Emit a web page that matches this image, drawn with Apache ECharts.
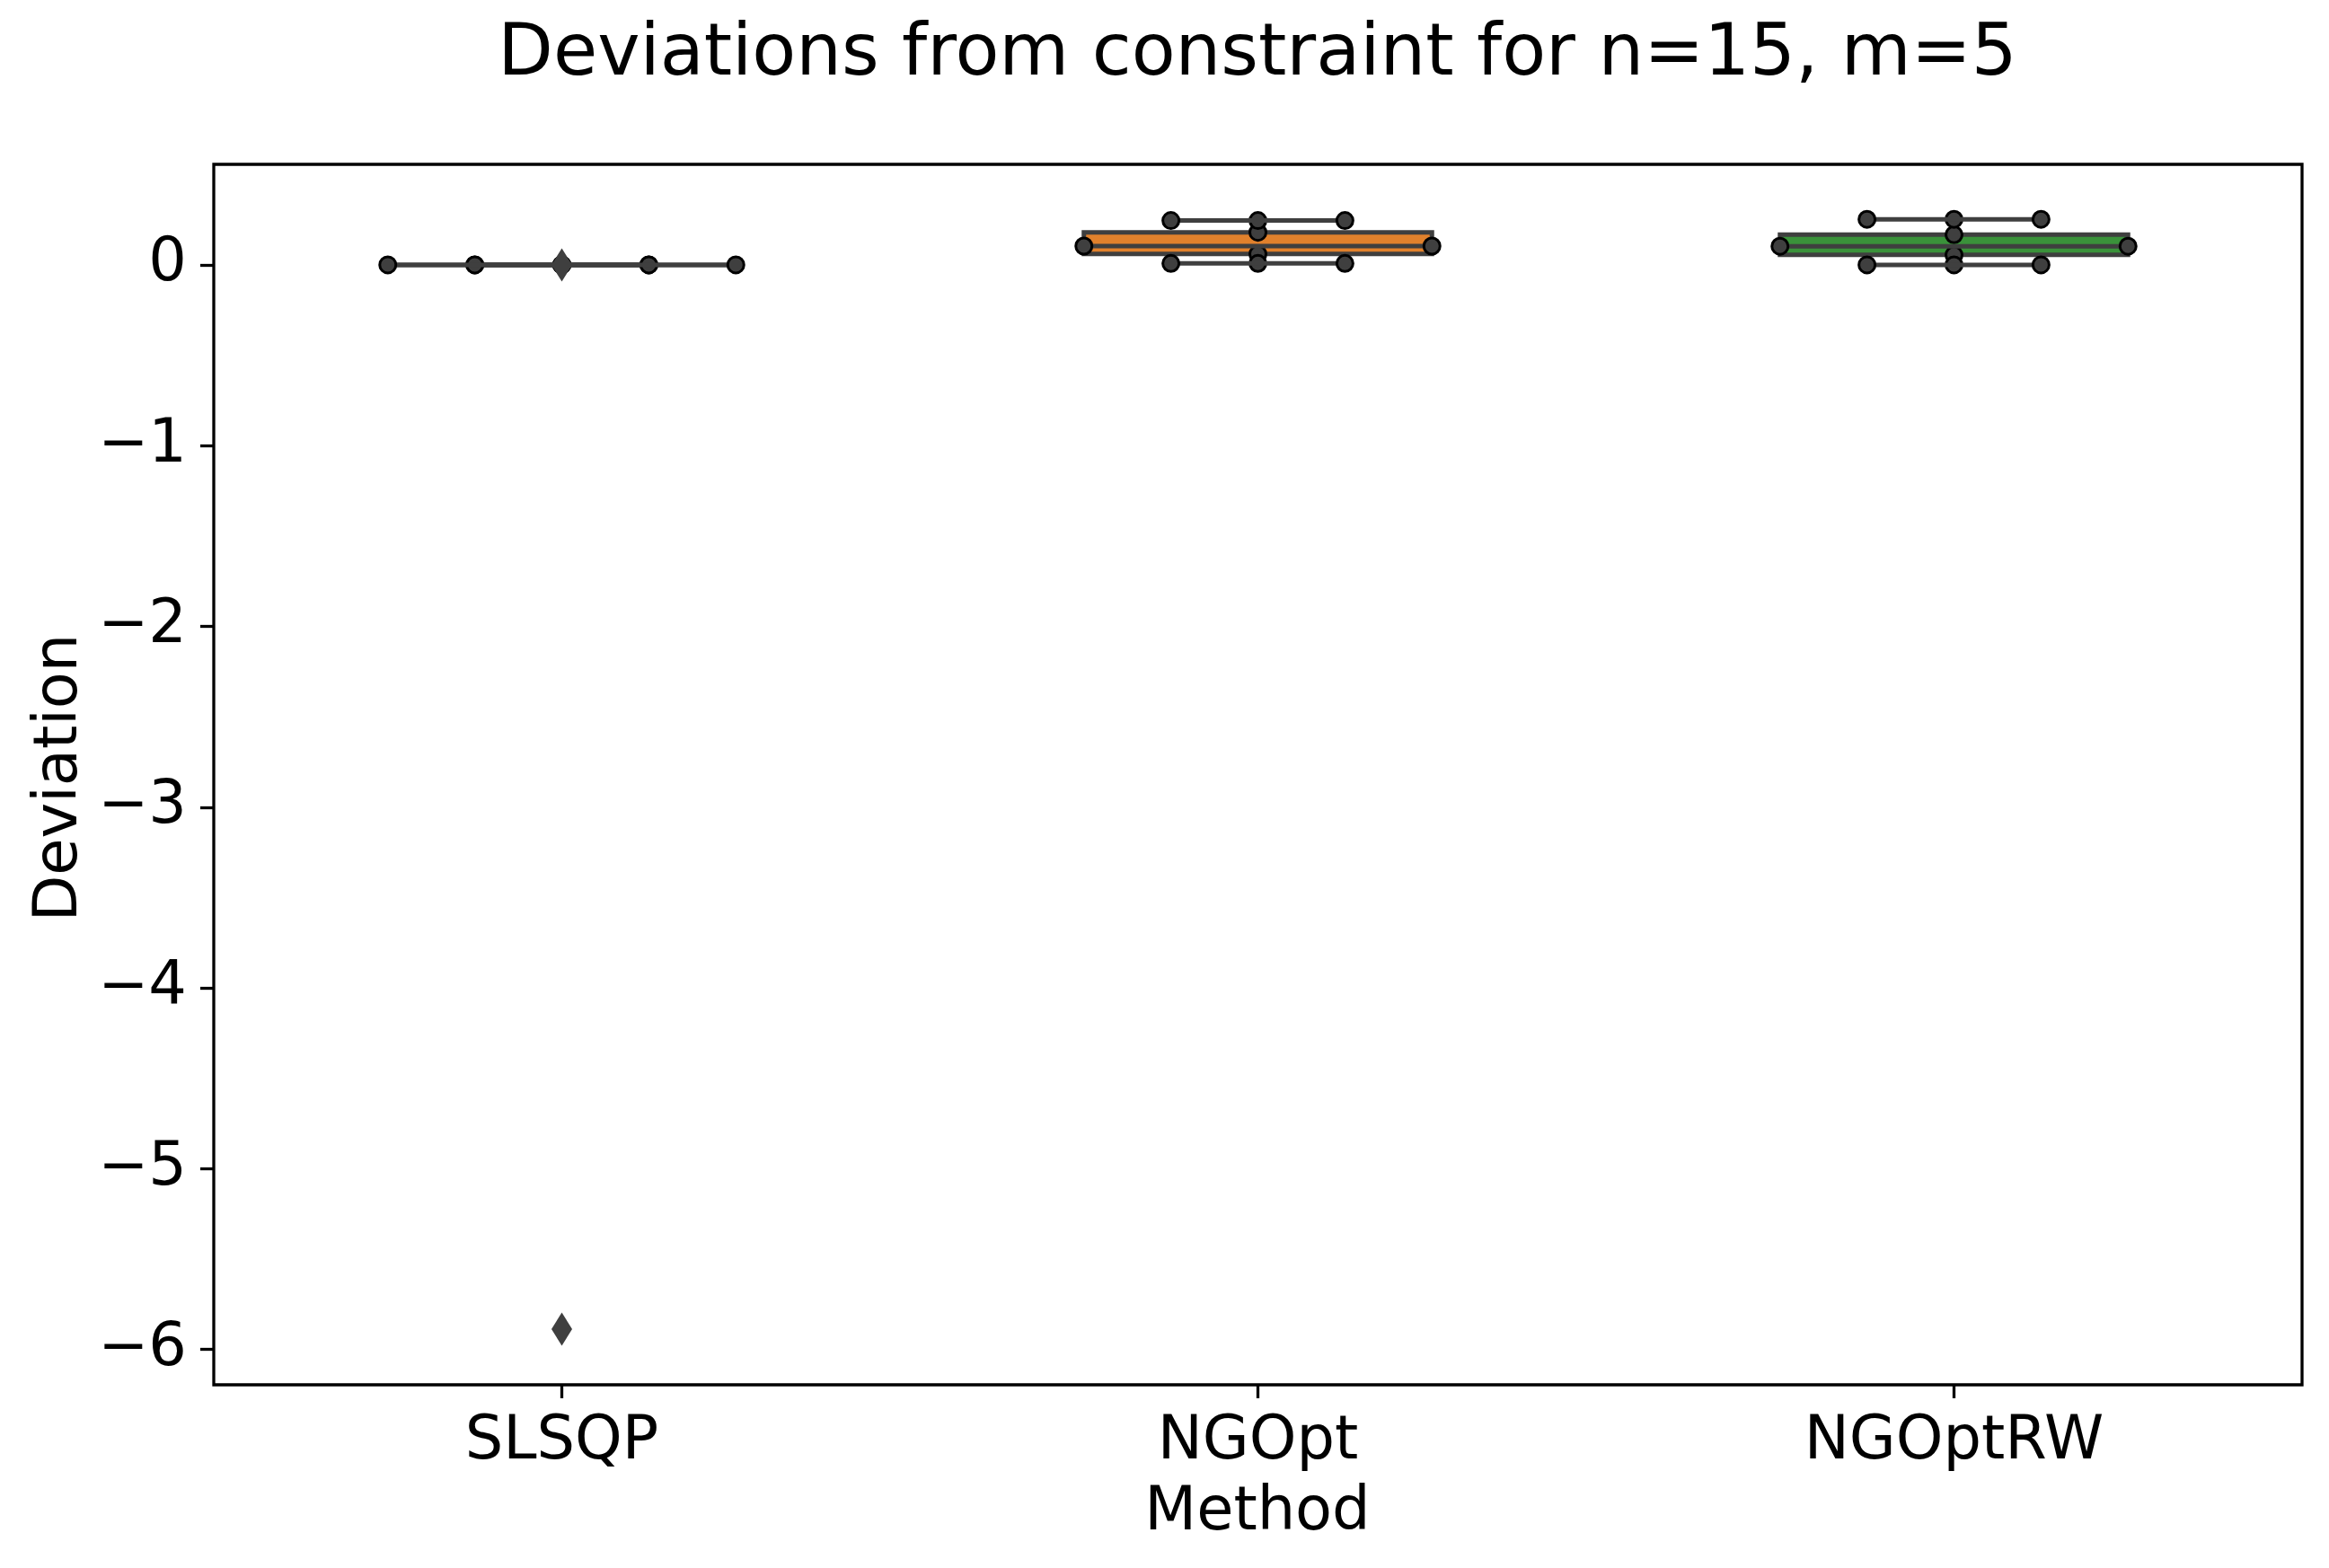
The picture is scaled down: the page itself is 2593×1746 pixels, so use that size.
<!DOCTYPE html>
<html>
<head>
<meta charset="utf-8">
<script src="https://cdn.jsdelivr.net/npm/echarts@6/dist/echarts.min.js"></script>
<style>
  html, body { margin: 0; padding: 0; background: #fff; }
  #chart { width: 2593px; height: 1746px; }
</style>
</head>
<body>
<div id="chart"></div>
<script>
// box statistics, one entry per method
const methods = ['SLSQP', 'NGOpt', 'NGOptRW'];
const whiskerLow = [0.0, 0.008, 0.0];
const q1 = [0.0, 0.060, 0.055];
const median = [0.0, 0.104, 0.103];
const q3 = [0.0, 0.180, 0.167];
const whiskerHigh = [0.0, 0.245, 0.252];

// outliers (method index, value)
const flierMethod = [0, 0];
const flierValue = [0.0, -5.887];

const yTicks = [-6, -5, -4, -3, -2, -1, 0];
const xTicks = [0, 1, 2];

const boxColors = ['#3274a1', '#e1812c', '#3a923a'];
const lineGray = '#3f3f3f';
const FONT = 'DejaVu Sans';

const boxData = methods.map((m, i) => [i, whiskerLow[i], q1[i], median[i], q3[i], whiskerHigh[i]]);
const flierData = flierMethod.map((m, i) => [m, flierValue[i]]);

function fmtNum(v) {
  return v < 0 ? '\u2212' + Math.abs(v) : String(v);
}

function renderBox(params, api) {
  const i = api.value(0);
  const lo = api.value(1), a = api.value(2), med = api.value(3), b = api.value(4), hi = api.value(5);
  const half = 0.25, capHalf = 0.125;
  const tl = api.coord([i - half, b]);
  const br = api.coord([i + half, a]);
  const children = [];
  children.push({
    type: 'rect',
    shape: { x: tl[0], y: tl[1], width: br[0] - tl[0], height: br[1] - tl[1] },
    style: { fill: boxColors[i], stroke: lineGray, lineWidth: 5 }
  });
  const segs = [
    [[i, a], [i, lo]],
    [[i, b], [i, hi]],
    [[i - capHalf, lo], [i + capHalf, lo]],
    [[i - capHalf, hi], [i + capHalf, hi]],
    [[i - half, med], [i + half, med]]
  ];
  segs.forEach(s => {
    const p0 = api.coord(s[0]);
    const p1 = api.coord(s[1]);
    children.push({
      type: 'line',
      shape: { x1: p0[0], y1: p0[1], x2: p1[0], y2: p1[1] },
      style: { stroke: lineGray, lineWidth: 5 }
    });
    [p0, p1].forEach(p => {
      children.push({
        type: 'circle',
        shape: { cx: p[0], cy: p[1], r: 9 },
        style: { fill: lineGray, stroke: '#000', lineWidth: 3 }
      });
    });
  });
  return { type: 'group', children: children };
}

const chart = echarts.init(document.getElementById('chart'), null, { renderer: 'canvas' });

chart.setOption({
  animation: false,
  backgroundColor: '#fff',
  grid: {
    left: 238, right: 30, top: 183, bottom: 204,
    show: true, borderColor: '#000', borderWidth: 3.3, backgroundColor: 'transparent'
  },
  xAxis: {
    type: 'value',
    min: -0.5, max: 2.5,
    position: 'bottom',
    splitLine: { show: false },
    axisLine: { show: false, onZero: false },
    axisTick: { show: true, inside: false, length: 15, customValues: xTicks, lineStyle: { color: '#000', width: 3.3 } },
    axisLabel: {
      customValues: xTicks,
      formatter: v => methods[Math.round(v)],
      fontFamily: FONT, fontSize: 67, color: '#000', margin: 31
    }
  },
  yAxis: {
    type: 'value',
    min: -6.195, max: 0.556,
    position: 'left',
    splitLine: { show: false },
    axisLine: { show: false, onZero: false },
    axisTick: { show: true, inside: false, length: 15, customValues: yTicks, lineStyle: { color: '#000', width: 3.3 } },
    axisLabel: {
      customValues: yTicks,
      formatter: fmtNum,
      fontFamily: FONT, fontSize: 67, color: '#000', margin: 30
    }
  },
  graphic: [
    {
      type: 'text', x: 1400, y: 62,
      style: { text: 'Deviations from constraint for n=15, m=5', fontFamily: FONT, fontSize: 80, fill: '#000', align: 'center', verticalAlign: 'middle' }
    },
    {
      type: 'text', x: 1400, y: 1686,
      style: { text: 'Method', fontFamily: FONT, fontSize: 67, fill: '#000', align: 'center', verticalAlign: 'middle' }
    },
    {
      type: 'text', x: 68, y: 866, rotation: Math.PI / 2,
      style: { text: 'Deviation', fontFamily: FONT, fontSize: 67, fill: '#000', align: 'center', verticalAlign: 'middle' }
    }
  ],
  series: [
    {
      type: 'custom',
      renderItem: renderBox,
      data: boxData,
      encode: { x: 0, y: [1, 2, 3, 4, 5] },
      z: 2
    },
    {
      type: 'scatter',
      data: flierData,
      symbol: 'diamond',
      symbolSize: [23, 37],
      itemStyle: { color: lineGray, opacity: 1 },
      z: 3
    }
  ]
});
</script>
</body>
</html>
